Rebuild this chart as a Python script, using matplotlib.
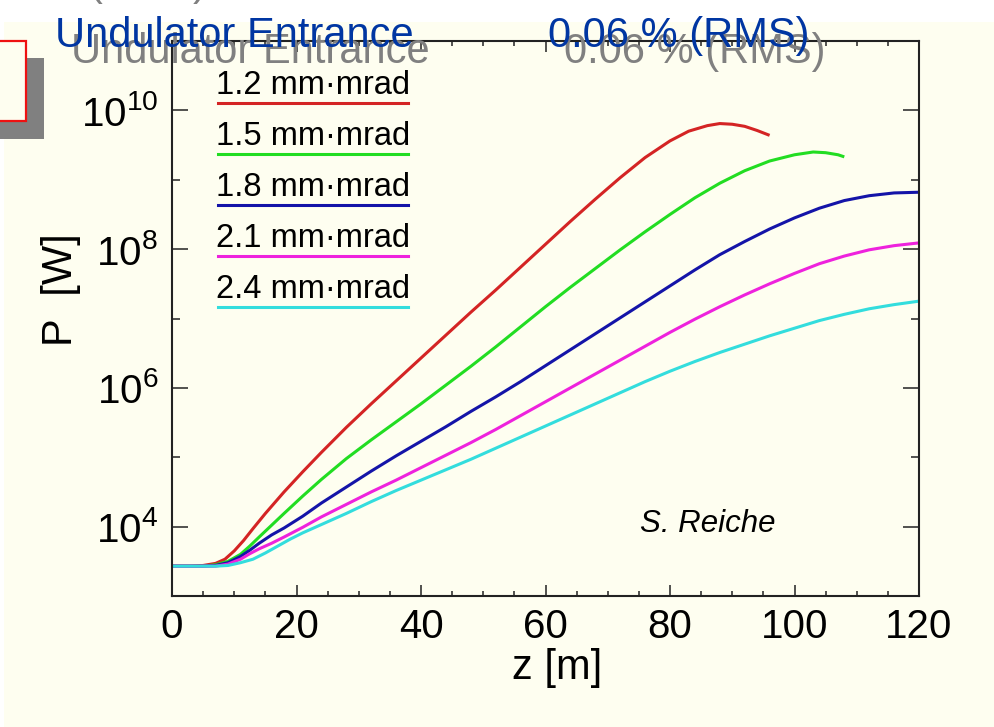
import matplotlib
matplotlib.use("Agg")
import matplotlib.pyplot as plt
import numpy as np
from matplotlib.patches import Rectangle
from matplotlib.ticker import MultipleLocator, LogLocator, FuncFormatter, NullFormatter

plt.rcParams['font.family'] = ['Liberation Sans', 'DejaVu Sans']
plt.rcParams['mathtext.fontset'] = 'custom'
plt.rcParams['mathtext.rm'] = 'Liberation Sans'
plt.rcParams['mathtext.it'] = 'Liberation Sans:italic'

# FEL power along the undulator, log10(P / W), for five emittances
labels = ["1.2 mm\u00b7mrad", "1.5 mm\u00b7mrad", "1.8 mm\u00b7mrad",
          "2.1 mm\u00b7mrad", "2.4 mm\u00b7mrad"]
colors = ["#d42424", "#22dd22", "#1414a8", "#ee22dd", "#33dddd"]

z_12 = [0, 3, 5, 7, 8.5, 10, 11.5, 13, 15, 18, 21, 24, 28, 32, 36, 40, 44, 48,
        52, 56, 60, 64, 68, 72, 76, 80, 83, 86, 88, 90, 92, 94, 96]
logp_12 = [3.43, 3.43, 3.44, 3.47, 3.53, 3.65, 3.80, 3.97, 4.19, 4.50, 4.79,
           5.07, 5.43, 5.77, 6.10, 6.43, 6.76, 7.09, 7.41, 7.74, 8.07, 8.40,
           8.72, 9.03, 9.32, 9.56, 9.70, 9.78, 9.81, 9.80, 9.77, 9.71, 9.64]

z_15 = [0, 3, 5, 7, 9, 11, 12.5, 14, 16, 18, 21, 24, 28, 32, 36, 40, 44, 48,
        52, 56, 60, 64, 68, 72, 76, 80, 84, 88, 92, 96, 100, 103, 105, 107, 108]
logp_15 = [3.43, 3.43, 3.43, 3.45, 3.50, 3.60, 3.72, 3.85, 4.02, 4.19, 4.44,
           4.68, 4.98, 5.25, 5.51, 5.77, 6.04, 6.31, 6.59, 6.88, 7.17, 7.45,
           7.72, 7.99, 8.25, 8.50, 8.74, 8.95, 9.13, 9.27, 9.36, 9.40, 9.39,
           9.36, 9.33]

z_18 = [0, 3, 5, 7, 9, 11, 12.5, 14, 16, 18, 21, 24, 28, 32, 36, 40, 44, 48,
        52, 56, 60, 64, 68, 72, 76, 80, 84, 88, 92, 96, 100, 104, 108, 112,
        116, 120]
logp_18 = [3.43, 3.43, 3.43, 3.44, 3.48, 3.57, 3.66, 3.76, 3.88, 3.98, 4.15,
           4.34, 4.57, 4.80, 5.02, 5.23, 5.44, 5.66, 5.87, 6.09, 6.32, 6.55,
           6.78, 7.01, 7.24, 7.47, 7.70, 7.92, 8.11, 8.29, 8.45, 8.59, 8.70,
           8.77, 8.81, 8.82]

z_21 = [0, 3, 5, 7, 9, 11, 12.5, 14, 16, 18, 21, 24, 28, 32, 36, 40, 44, 48,
        52, 56, 60, 64, 68, 72, 76, 80, 84, 88, 92, 96, 100, 104, 108, 112,
        116, 120]
logp_21 = [3.43, 3.43, 3.43, 3.43, 3.46, 3.53, 3.61, 3.68, 3.76, 3.85, 3.99,
           4.14, 4.32, 4.50, 4.67, 4.85, 5.03, 5.21, 5.40, 5.60, 5.80, 6.00,
           6.20, 6.40, 6.60, 6.80, 6.99, 7.17, 7.34, 7.50, 7.65, 7.79, 7.90,
           7.99, 8.05, 8.09]

z_24 = [0, 3, 5, 7, 9, 11, 13, 15, 17, 19, 21, 24, 28, 32, 36, 40, 44, 48,
        52, 56, 60, 64, 68, 72, 76, 80, 84, 88, 92, 96, 100, 104, 108, 112,
        116, 120]
logp_24 = [3.43, 3.43, 3.43, 3.43, 3.44, 3.48, 3.53, 3.62, 3.72, 3.82, 3.91,
           4.03, 4.19, 4.36, 4.52, 4.67, 4.82, 4.97, 5.13, 5.29, 5.45, 5.61,
           5.77, 5.93, 6.09, 6.24, 6.38, 6.51, 6.63, 6.75, 6.86, 6.97, 7.06,
           7.14, 7.20, 7.25]

series = [(z_12, logp_12), (z_15, logp_15), (z_18, logp_18),
          (z_21, logp_21), (z_24, logp_24)]

W, H = 994, 727
bg = "#fefef0"


def fx(px):
    return px / W


def fy(py):
    return 1 - py / H


fig = plt.figure(figsize=(W / 100, H / 100), dpi=100, facecolor="white")

# slide background and the little framed box on the left
fig.patches.append(Rectangle((fx(4), 0), 1, fy(22), transform=fig.transFigure,
                             facecolor=bg, edgecolor="none", zorder=-10))
fig.patches.append(Rectangle((fx(-5), fy(139)), fx(49), fy(58) - fy(139),
                             transform=fig.transFigure, facecolor="#808080",
                             edgecolor="none", zorder=-5))
fig.patches.append(Rectangle((fx(-5), fy(121)), fx(31), fy(41) - fy(121),
                             transform=fig.transFigure, facecolor=bg,
                             edgecolor="#ee1111", linewidth=1.6, zorder=-4))

ax = fig.add_axes([fx(172), fy(596), fx(919) - fx(172), fy(41) - fy(596)])
ax.set_facecolor(bg)

for (z, lp), c in zip(series, colors):
    ax.plot(z, 10 ** np.array(lp), color=c, lw=2.2, solid_capstyle="butt",
            solid_joinstyle="round")

ax.set_yscale("log")
ax.set_xlim(0, 120)
ax.set_ylim(1e3, 1e11)

ax.xaxis.set_major_locator(MultipleLocator(20))
ax.xaxis.set_minor_locator(MultipleLocator(5))
ax.yaxis.set_major_locator(LogLocator(base=100, numticks=10))
ax.yaxis.set_minor_locator(LogLocator(base=10, subs=(1.0,), numticks=20))
ax.yaxis.set_major_formatter(FuncFormatter(
    lambda v, p: r"$\mathdefault{10^{%d}}$" % round(np.log10(v))))
ax.yaxis.set_minor_formatter(NullFormatter())

ax.tick_params(which="both", direction="in", top=True, right=True,
               width=1.1, color="#222222", labelsize=29)
ax.tick_params(axis="x", which="major", length=8, pad=9)
ax.tick_params(axis="x", which="minor", length=3.6)
ax.tick_params(axis="y", which="major", length=11.5, pad=10)
ax.tick_params(axis="y", which="minor", length=5.8)
for s in ax.spines.values():
    s.set_linewidth(1.5)
    s.set_color("#222222")

# legend: label with a coloured line underneath
for i, (lab, c) in enumerate(zip(labels, colors)):
    ly = 103.3 + i * 50.8
    fig.text(fx(216), fy(ly - 9), lab, fontsize=23.5, color="black",
             va="baseline", ha="left")
    fig.add_artist(plt.Line2D([fx(218), fx(408)], [fy(ly), fy(ly)],
                              color=c, lw=2.2, transform=fig.transFigure))

fig.text(fx(640), fy(532), "S. Reiche", fontsize=22.5, style="italic",
         va="baseline", ha="left")
fig.text(fx(557), fy(668), "z [m]", fontsize=30, ha="center", va="center")
fig.text(fx(61), fy(290), "P  [W]", fontsize=30, rotation=90,
         ha="center", va="center")

# heading with its grey shadow
for dx, dy, col, z in [(16, 16, "#808080", 5), (0, 0, "#0036a2", 6)]:
    fig.text(fx(55 + dx), fy(47 + dy), "Undulator Entrance", fontsize=30,
             color=col, va="baseline", ha="left", zorder=z)
    fig.text(fx(548 + dx), fy(47 + dy), "0.06 % (RMS)", fontsize=30,
             color=col, va="baseline", ha="left", zorder=z)
fig.text(fx(88), fy(-5), "(", fontsize=30, color="#808080", va="baseline")
fig.text(fx(193), fy(-5), ")", fontsize=30, color="#808080", va="baseline")

fig.savefig("out.png", dpi=100, facecolor="white")
